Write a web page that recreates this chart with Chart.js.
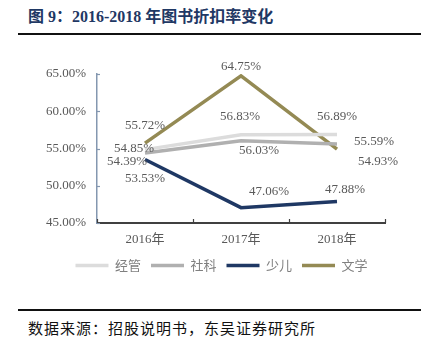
<!DOCTYPE html>
<html>
<head>
<meta charset="utf-8">
<script src="https://cdn.jsdelivr.net/npm/chart.js@4"></script>
<style>
  html, body { margin: 0; padding: 0; background: #fff; }
  #wrap { position: relative; width: 427px; height: 351px; overflow: hidden; }
  #title {
    position: absolute; left: 28px; top: 3px;
    font: bold 16px "Liberation Serif", "Noto Sans CJK SC", serif;
    color: #1f3864; white-space: nowrap;
  }
  .rule { position: absolute; left: 18px; width: 403px; height: 2px; background: #111; }
  #source {
    position: absolute; left: 28px; top: 317px;
    font: 15px "Noto Sans CJK SC", sans-serif; letter-spacing: 1px;
    color: #111; white-space: nowrap;
  }
  #chartBox { position: absolute; left: 0; top: 0; width: 427px; height: 290px; }
</style>
</head>
<body>
<div id="wrap">
  <div id="title">图 9：2016-2018 年图书折扣率变化</div>
  <div class="rule" style="top:33px"></div>
  <div id="chartBox"><canvas id="c"></canvas></div>
  <div class="rule" style="top:309px"></div>
  <div id="source">数据来源：招股说明书，东吴证券研究所</div>
</div>
<script>
// ─── Data ────────────────────────────────────────────────────────────────────
const years = ['2016年', '2017年', '2018年'];
const jingguan = [54.85, 56.83, 56.89];   // 经管
const sheke    = [54.39, 56.03, 55.59];   // 社科
const shaoer   = [53.53, 47.06, 47.88];   // 少儿
const wenxue   = [55.72, 64.75, 54.93];   // 文学

// label offsets (px) from each point, per series
const labelOffsets = [
  [[-11, -1], [-1, -18], [0, -18]],
  [[-18, 9], [18, 10], [37, -3]],
  [[0, 19], [28, -16], [8, -12]],
  [[0, -18], [0, -9], [41, 13]],
];

const serif = "'Liberation Serif', 'Noto Sans CJK SC', serif";

// ─── Plugins ─────────────────────────────────────────────────────────────────
const axisMarks = {
  id: 'axisMarks',
  afterDraw(chart) {
    const { ctx, scales: { x, y }, chartArea: a } = chart;
    ctx.save();
    ctx.strokeStyle = '#8497b0';
    ctx.lineWidth = 1.2;
    y.ticks.forEach(t => {
      const py = Math.round(y.getPixelForValue(t.value)) + 0.5;
      ctx.beginPath(); ctx.moveTo(a.left, py); ctx.lineTo(a.left + 3, py); ctx.stroke();
    });
    ctx.strokeStyle = '#404040';
    const n = x.ticks.length;
    for (let i = 0; i <= n; i++) {
      const px = Math.round(a.left + (a.right - a.left) * i / n) + 0.5;
      ctx.beginPath(); ctx.moveTo(px, a.bottom); ctx.lineTo(px, a.bottom - 4); ctx.stroke();
    }
    ctx.restore();
  }
};

const pointLabels = {
  id: 'pointLabels',
  afterDatasetsDraw(chart) {
    const ctx = chart.ctx;
    ctx.save();
    ctx.font = '13px ' + serif;
    ctx.fillStyle = '#595959';
    ctx.textAlign = 'center';
    ctx.textBaseline = 'middle';
    chart.data.datasets.forEach((ds, di) => {
      chart.getDatasetMeta(di).data.forEach((pt, i) => {
        const [dx, dy] = labelOffsets[di][i];
        ctx.fillText(ds.data[i].toFixed(2) + '%', pt.x + dx, pt.y + dy);
      });
    });
    ctx.restore();
  }
};

// ─── Chart ───────────────────────────────────────────────────────────────────
function series(label, data, color) {
  return {
    label, data,
    borderColor: color,
    backgroundColor: color,
    borderWidth: 3.5,
    pointRadius: 0,
    pointHoverRadius: 0,
    tension: 0,
    pointStyle: 'line',
  };
}

new Chart(document.getElementById('c'), {
  type: 'line',
  data: {
    labels: years,
    datasets: [
      series('经管', jingguan, '#dcdcdc'),
      series('社科', sheke, '#b0b0b0'),
      series('少儿', shaoer, '#1f3864'),
      series('文学', wenxue, '#948a54'),
    ]
  },
  options: {
    responsive: true,
    maintainAspectRatio: false,
    animation: false,
    layout: { padding: { top: 74, left: 16, right: 0, bottom: 8 } },
    plugins: {
      tooltip: { enabled: false },
      legend: {
        position: 'bottom',
        labels: {
          usePointStyle: true,
          pointStyleWidth: 33,
          padding: 10,
          color: '#7f7f7f',
          font: { family: "'Noto Sans CJK SC', sans-serif", size: 13 },
        }
      }
    },
    scales: {
      x: {
        offset: true,
        afterFit: s => { s.height = 26; },
        grid: { display: false, drawTicks: false },
        border: { color: '#404040', width: 2 },
        ticks: { color: '#595959', padding: 9, font: { family: serif, size: 13 } },
      },
      y: {
        min: 45, max: 65,
        afterFit: s => { s.width = 81; },
        grid: { display: false, drawTicks: false },
        border: { color: '#8497b0', width: 1.5 },
        ticks: {
          stepSize: 5,
          padding: 11,
          color: '#595959',
          font: { family: serif, size: 13 },
          callback: v => v.toFixed(2) + '%',
        }
      },
      // empty right-hand gutter so the legend centres like the original
      gutter: {
        type: 'linear',
        position: 'right',
        afterFit: s => { s.width = 42; },
        grid: { display: false, drawTicks: false },
        border: { display: false },
        ticks: { display: false },
      }
    }
  },
  plugins: [axisMarks, pointLabels]
});
</script>
</body>
</html>
